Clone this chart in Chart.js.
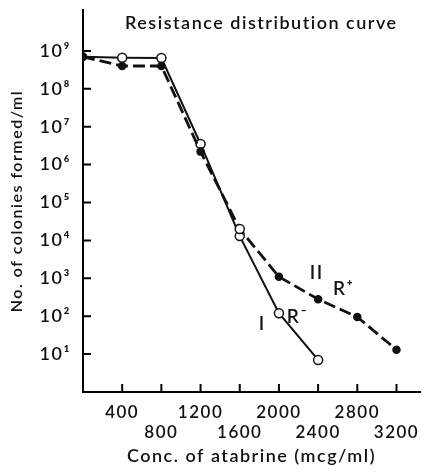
<!DOCTYPE html>
<html lang="en">
<head>
<meta charset="UTF-8" />
<title>Resistance distribution curve</title>
<script src="https://cdn.jsdelivr.net/npm/chart.js@4.4.0/dist/chart.umd.min.js"></script>
<style>
  html, body { margin: 0; padding: 0; background: #fff; }
  #wrap { width: 428px; height: 472px; position: relative; }
</style>
</head>
<body>
<div id="wrap"><canvas id="canvas"></canvas></div>
<script>
// concentration of atabrine (mcg/ml)
var concI = [0, 400, 800, 1200, 1600, 2000, 2400];
var coloniesI = [7e8, 6.6e8, 6.5e8, 3.5e6, 1.3e4, 120, 7];
var openI = [false, true, true, true, true, true, true];

var concII = [0, 400, 800, 1200, 1600, 2000, 2400, 2800, 3200];
var coloniesII = [7e8, 4e8, 4e8, 2.2e6, 2e4, 1100, 280, 95, 13];
var openII = [false, false, false, false, true, false, false, false, false];

var xTicks = [400, 800, 1200, 1600, 2000, 2400, 2800, 3200];
var yTicks = [1e1, 1e2, 1e3, 1e4, 1e5, 1e6, 1e7, 1e8, 1e9];
var sup = ["⁰", "¹", "²", "³", "⁴", "⁵", "⁶", "⁷", "⁸", "⁹"];

// text labels placed in data coordinates
var notes = [
    { text: "Resistance distribution curve", x: 1820, y: 5.5e9, size: 18 },
    { text: "II", x: 2385, y: 1350, size: 19 },
    { text: "R⁺", x: 2660, y: 520, size: 19 },
    { text: "I", x: 1830, y: 62, size: 19 },
    { text: "R⁻", x: 2190, y: 95, size: 19 }
];

var FONT = "Lato, 'Open Sans', sans-serif";

function toPoints(xs, ys) {
    return xs.map(function (x, i) { return { x: x, y: ys[i] }; });
}

var spacing = {
    id: "spacing",
    beforeDraw: function (chart) {
        chart.ctx.letterSpacing = "1.5px";
    }
};

var insideTicks = {
    id: "insideTicks",
    afterDraw: function (chart) {
        var ctx = chart.ctx;
        var xs = chart.scales.x, ys = chart.scales.y;
        var a = chart.chartArea;
        ctx.save();
        ctx.strokeStyle = "#000";
        ctx.lineWidth = 2;
        ctx.beginPath();
        xTicks.forEach(function (v) {
            var px = xs.getPixelForValue(v);
            ctx.moveTo(px, a.bottom);
            ctx.lineTo(px, a.bottom - 8);
        });
        yTicks.forEach(function (v) {
            var py = ys.getPixelForValue(v);
            ctx.moveTo(a.left, py);
            ctx.lineTo(a.left + 8, py);
        });
        ctx.stroke();

        ctx.fillStyle = "#111";
        ctx.textAlign = "center";
        ctx.textBaseline = "middle";
        notes.forEach(function (n) {
            ctx.font = "600 " + n.size + "px " + FONT;
            ctx.fillText(n.text, xs.getPixelForValue(n.x), ys.getPixelForValue(n.y));
        });
        ctx.restore();
    }
};

var ctx = document.getElementById("canvas").getContext("2d");
var chart = new Chart(ctx, {
    type: "line",
    data: {
        datasets: [
            {
                label: "II R+",
                data: toPoints(concII, coloniesII),
                borderColor: "#111",
                borderWidth: 2.8,
                borderDash: [12, 5],
                fill: false,
                tension: 0,
                pointRadius: openII.map(function (o) { return o ? 4.5 : 3.5; }),
                pointBackgroundColor: openII.map(function (o) { return o ? "#fff" : "#111"; }),
                pointBorderColor: "#111",
                pointBorderWidth: 1.5
            },
            {
                label: "I R-",
                data: toPoints(concI, coloniesI),
                borderColor: "#111",
                borderWidth: 2,
                fill: false,
                tension: 0,
                pointRadius: openI.map(function (o) { return o ? 4.5 : 3.5; }),
                pointBackgroundColor: openI.map(function (o) { return o ? "#fff" : "#111"; }),
                pointBorderColor: "#111",
                pointBorderWidth: 1.5
            }
        ]
    },
    options: {
        responsive: true,
        maintainAspectRatio: false,
        animation: false,
        layout: { padding: { top: 10, right: 8, left: 0, bottom: 0 } },
        plugins: {
            legend: { display: false },
            tooltip: { enabled: false }
        },
        scales: {
            x: {
                type: "linear",
                min: 0,
                max: 3440,
                grid: { display: false },
                border: { display: true, color: "#000", width: 2 },
                afterBuildTicks: function (scale) {
                    scale.ticks = xTicks.map(function (v) { return { value: v }; });
                },
                afterFit: function (scale) {
                    scale.height = 80;
                    scale.paddingLeft = 0;
                    scale.paddingRight = 0;
                },
                ticks: {
                    autoSkip: false,
                    maxRotation: 0,
                    padding: 2,
                    color: "#111",
                    font: { family: FONT, size: 17, weight: "600", lineHeight: 1.18 },
                    callback: function (v) {
                        var i = xTicks.indexOf(v);
                        return i % 2 === 0 ? [String(v), ""] : ["", String(v)];
                    }
                },
                title: {
                    display: true,
                    text: "Conc. of atabrine (mcg/ml)",
                    color: "#111",
                    padding: { top: 0, bottom: 5 },
                    font: { family: FONT, size: 18, weight: "600" }
                }
            },
            y: {
                type: "logarithmic",
                min: 1,
                max: 1.2e10,
                grid: { display: false },
                border: { display: true, color: "#000", width: 2 },
                afterBuildTicks: function (scale) {
                    scale.ticks = yTicks.map(function (v) { return { value: v }; });
                },
                afterFit: function (scale) {
                    scale.width = 83;
                    scale.paddingTop = 0;
                    scale.paddingBottom = 0;
                },
                ticks: {
                    autoSkip: false,
                    padding: 4,
                    color: "#111",
                    font: { family: FONT, size: 18, weight: "600" },
                    callback: function (v) {
                        var e = Math.round(Math.log10(v));
                        return "10" + sup[e];
                    }
                },
                title: {
                    display: true,
                    text: "No. of colonies formed/ml",
                    color: "#111",
                    padding: { top: 7, bottom: 0 },
                    font: { family: FONT, size: 16, weight: "600" }
                }
            }
        }
    },
    plugins: [spacing, insideTicks]
});
</script>
</body>
</html>
